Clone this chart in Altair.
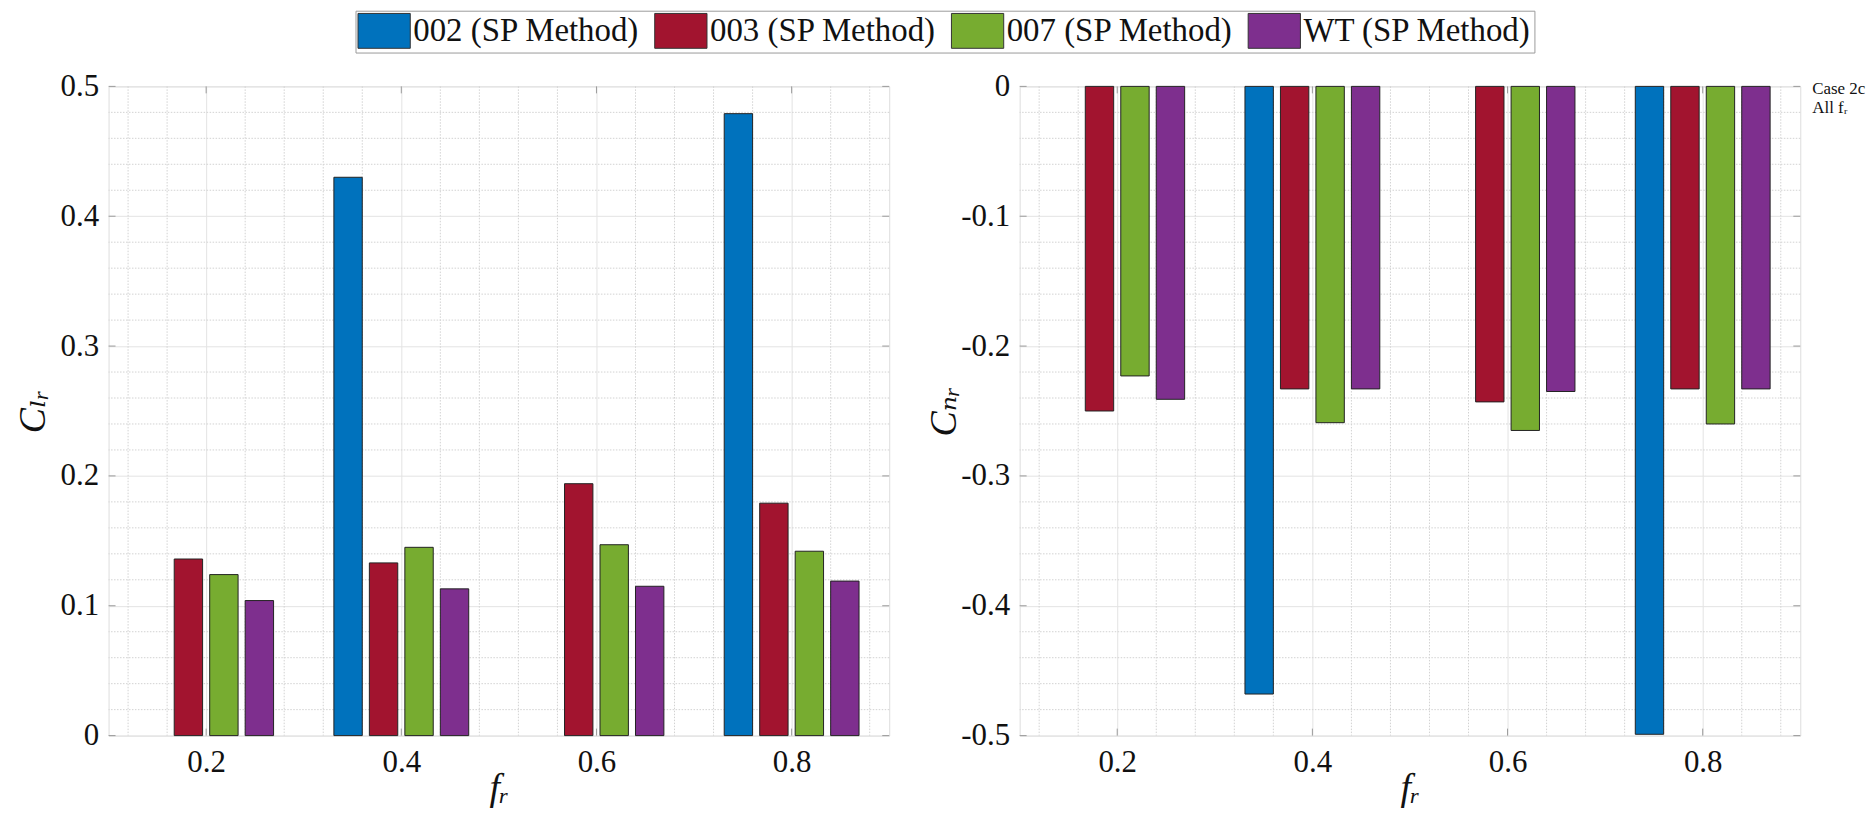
import altair as alt
import pandas as pd

# ---------------- data ----------------
fr = [0.2, 0.4, 0.6, 0.8]
series = ["002 (SP Method)", "003 (SP Method)", "007 (SP Method)", "WT (SP Method)"]
colors = ["#0072BD", "#A2142F", "#77AC30", "#7E2F8E"]

cl_002 = [None, 0.430, None, 0.479]
cl_003 = [0.136, 0.133, 0.194, 0.179]
cl_007 = [0.124, 0.145, 0.147, 0.142]
cl_wt = [0.104, 0.113, 0.115, 0.119]

cn_002 = [None, -0.468, None, -0.499]
cn_003 = [-0.250, -0.233, -0.243, -0.233]
cn_007 = [-0.223, -0.259, -0.265, -0.260]
cn_wt = [-0.241, -0.233, -0.235, -0.233]

x_major = [0.2, 0.4, 0.6, 0.8]
x_minor = [0.12, 0.16, 0.24, 0.28, 0.32, 0.36, 0.44, 0.48, 0.52, 0.56,
           0.64, 0.68, 0.72, 0.76, 0.84, 0.88]
cl_major = [0.0, 0.1, 0.2, 0.3, 0.4, 0.5]
cl_minor = [0.02, 0.04, 0.06, 0.08, 0.12, 0.14, 0.16, 0.18, 0.22, 0.24, 0.26, 0.28,
            0.32, 0.34, 0.36, 0.38, 0.42, 0.44, 0.46, 0.48]
cn_major = [-0.5, -0.4, -0.3, -0.2, -0.1, 0.0]
cn_minor = [-v for v in cl_minor]

notes = ["Case 2c\nAll fᵣ"]

# ---------------- style ----------------
W, H = 784, 652
FONT = "'Liberation Serif', 'Times New Roman', 'DejaVu Serif', serif"
FRAME = "#9a9a9a"
GRID = "#e3e3e3"
MINOR = "#d2d2d2"
GROUP_W = 0.2 * 4 / 5.5          # MATLAB grouped-bar group width
STEP = GROUP_W / 4
BAR_HALF = 0.8 * STEP / 2


def long_df(lists):
    rows = []
    for k, (name, vals) in enumerate(zip(series, lists)):
        for f, v in zip(fr, vals):
            if v is None:
                continue
            rows.append({"fr": f, "series": name, "k": k, "val": v})
    return pd.DataFrame(rows)


legend = alt.Legend(
    title=None, orient="none", legendX=248, legendY=-76, direction="horizontal",
    symbolType="M-1,-1H2V1H-1Z", symbolSize=1225, symbolStrokeColor="#333333",
    symbolStrokeWidth=1, symbolOpacity=1, labelFont=FONT, labelFontSize=33,
    labelColor="#111111", labelLimit=400, labelOffset=20, columnPadding=12,
    padding=2, strokeColor=FRAME, fillColor="white", cornerRadius=0,
)


def panel(df, ydom, ymajor, yminor, ytitle, label_expr, with_note=False):
    xsc = alt.Scale(domain=[0.1, 0.9], nice=False, zero=False)
    ysc = alt.Scale(domain=ydom, nice=False, zero=False)
    xa = alt.Axis(
        values=x_major, labelExpr="format(datum.value, '.1f')",
        labelFont=FONT, labelFontSize=31, labelColor="#111111", labelPadding=12,
        domain=False, ticks=False, grid=True, gridColor=GRID,
        titleFont=FONT, titleFontSize=38, titleFontStyle="italic",
        titleFontWeight="normal", titleColor="#111111",
        titleY=64, titleBaseline="alphabetic")
    ya = alt.Axis(
        values=ymajor, labelExpr=label_expr,
        labelFont=FONT, labelFontSize=31, labelColor="#111111", labelPadding=10,
        domain=False, ticks=False, grid=True, gridColor=GRID,
        titleFont=FONT, titleFontSize=38, titleFontStyle="italic",
        titleFontWeight="normal", titleColor="#111111", titleAngle=270,
        titleX=-64, titleY=H / 2, titleBaseline="alphabetic", titleAlign="center")

    def X(field):
        return alt.X(field, scale=xsc, axis=xa, title="fᵣ")

    def Y(field):
        return alt.Y(field, scale=ysc, axis=ya, title=ytitle)

    minor_v = alt.Chart(pd.DataFrame({"v": x_minor})).mark_rule(
        color=MINOR, strokeDash=[1.5, 1.5], strokeWidth=1
    ).encode(x=X("v:Q"))
    minor_h = alt.Chart(pd.DataFrame({"v": yminor})).mark_rule(
        color=MINOR, strokeDash=[1.5, 1.5], strokeWidth=1
    ).encode(y=Y("v:Q"))

    bars = alt.Chart(df).transform_calculate(
        xc=f"datum.fr + (datum.k - 1.5) * {STEP}"
    ).transform_calculate(
        x0=f"datum.xc - {BAR_HALF}", x1=f"datum.xc + {BAR_HALF}"
    ).mark_bar(stroke="#222222", strokeWidth=1, opacity=1).encode(
        x=X("x0:Q"),
        x2="x1:Q",
        y=Y("val:Q"),
        y2=alt.datum(0),
        color=alt.Color("series:N", scale=alt.Scale(domain=series, range=colors),
                        legend=legend),
    )

    tx = pd.DataFrame({"v": x_major})
    ty = pd.DataFrame({"v": ymajor})
    tick_b = alt.Chart(tx).mark_rule(color=FRAME).encode(
        x=X("v:Q"), y=alt.value(H), y2=alt.value(H - 7))
    tick_t = alt.Chart(tx).mark_rule(color=FRAME).encode(
        x=X("v:Q"), y=alt.value(0), y2=alt.value(7))
    tick_l = alt.Chart(ty).mark_rule(color=FRAME).encode(
        y=Y("v:Q"), x=alt.value(0), x2=alt.value(7))
    tick_r = alt.Chart(ty).mark_rule(color=FRAME).encode(
        y=Y("v:Q"), x=alt.value(W - 7), x2=alt.value(W))

    layers = [minor_v, minor_h, bars, tick_b, tick_t, tick_l, tick_r]
    if with_note:
        note = alt.Chart(pd.DataFrame({"t": notes})).mark_text(
            font=FONT, fontSize=17, align="left", baseline="middle",
            lineBreak="\n", lineHeight=19, color="#111111"
        ).encode(text="t:N", x=alt.value(W + 12), y=alt.value(3))
        layers.append(note)
    return alt.layer(*layers).properties(width=W, height=H)


left = panel(long_df([cl_002, cl_003, cl_007, cl_wt]), [0, 0.5], cl_major, cl_minor,
             "Cₗᵣ", "datum.value == 0 ? '0' : format(datum.value, '.1f')")
right = panel(long_df([cn_002, cn_003, cn_007, cn_wt]), [-0.5, 0], cn_major, cn_minor,
              "Cₙᵣ", "datum.value == 0 ? '0' : '-' + format(-datum.value, '.1f')",
              with_note=True)

chart = alt.hconcat(left, right, spacing=35).resolve_scale(
    x="independent", y="independent", color="shared"
).resolve_legend(color="shared").properties(
    padding={"left": 6, "top": 0, "right": 0, "bottom": 0}
).configure_view(stroke=FRAME, strokeWidth=1).configure(background="white")

chart.save("out.html", embed_options={"renderer": "svg", "actions": False})
